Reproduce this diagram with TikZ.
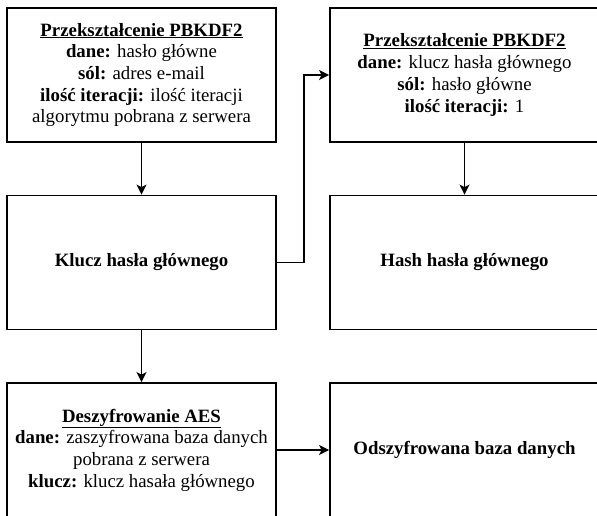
\documentclass[tikz,border=0pt]{standalone}
\usepackage{fontspec}
\setmainfont{Liberation Serif}
\usetikzlibrary{arrows.meta}
\begin{document}
\begin{tikzpicture}[x=1pt,y=-1pt,
  box/.style={draw, line width=1.8pt, minimum width=269pt, minimum height=134pt,
    align=center, inner sep=0pt, font=\fontsize{18.8}{21.7}\selectfont},
  conn/.style={draw, line width=1.8pt, -{Stealth[length=10pt,width=10pt,inset=2.5pt]}}]
\useasboundingbox (0,0) rectangle (597,515);
\clip (0,0) rectangle (597,515);
\node[box] (pb1) at (141.5,75) {\underline{\textbf{Przekształcenie PBKDF2}}\\
  \textbf{dane:} hasło główne\\
  \textbf{sól:} adres e-mail\\
  \textbf{ilość iteracji:} ilość iteracji\\
  algorytmu pobrana z serwera};
\node[box] (klucz) at (141.5,262.5) {\textbf{Klucz hasła głównego}};
\node[box] (aes) at (141.5,450) {\underline{\textbf{Deszyfrowanie AES}}\\
  \textbf{dane:} zaszyfrowana baza danych\\
  pobrana z serwera\\
  \textbf{klucz:} klucz hasała głównego};
\node[box] (pb2) at (464.5,75) {\underline{\textbf{Przekształcenie PBKDF2}}\\
  \textbf{dane:} klucz hasła głównego\\
  \textbf{sól:} hasło główne\\
  \textbf{ilość iteracji:} 1};
\node[box] (hash) at (464.5,262.5) {\textbf{Hash hasła głównego}};
\node[box] (odsz) at (464.5,450) {\textbf{Odszyfrowana baza danych}};
\draw[conn] (pb1) -- (klucz);
\draw[conn] (klucz) -- (aes);
\draw[conn] (pb2) -- (hash);
\draw[conn] (aes) -- (odsz);
\draw[conn] (klucz.east) -- ++(27,0) |- (pb2.west);
\end{tikzpicture}
\end{document}
